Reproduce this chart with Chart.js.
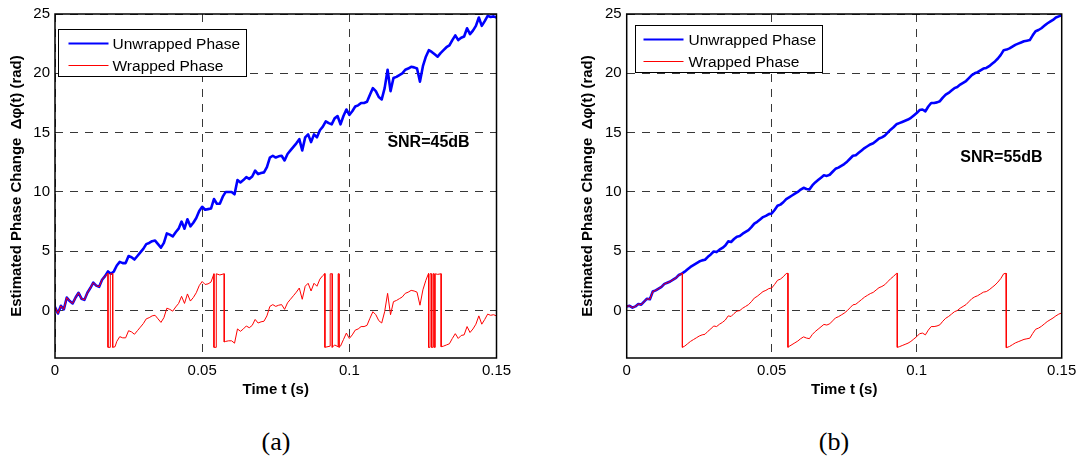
<!DOCTYPE html>
<html>
<head>
<meta charset="utf-8">
<script src="https://cdn.jsdelivr.net/npm/chart.js@4.4.1/dist/chart.umd.min.js"></script>
<style>
    body { margin: 0; background: #fff; width: 1089px; height: 458px; position: relative; overflow: hidden; }
    .panel { position: absolute; top: 0; }
    .caption { position: absolute; top: 427px; line-height: 30px; font-family: 'Liberation Serif', 'Times New Roman', serif; font-size: 26px; transform: translateX(-50%); }
</style>
</head>
<body>
<div class="panel" style="left:0"><canvas id="chartA" width="520" height="400"></canvas></div>
<div class="panel" style="left:560px"><canvas id="chartB" width="529" height="400"></canvas></div>
<div class="caption" style="left:276px">(a)</div>
<div class="caption" style="left:834px">(b)</div>

<script>
// unwrapped phase is sampled every 1 ms, 0 .. 0.15 s
const SAMPLE_STEP = 0.001;

const xTicks = [0, 0.05, 0.1, 0.15];
const xTickLabels = ['0', '0.05', '0.1', '0.15'];
const yTicks = [0, 5, 10, 15, 20, 25];
const seriesLabels = ['Unwrapped Phase', 'Wrapped Phase'];

// (a) SNR = 45 dB
const unwrappedA = [
    0.3, -0.25, 0.4, 0.1, 1.1, 0.8, 0.6, 1.1, 1.5, 1.0,
    0.9, 1.5, 1.9, 2.35, 2.1, 2.0, 2.6, 2.9, 3.3, 3.1,
    3.3, 3.8, 4.1, 4.0, 4.0, 4.6, 4.5, 4.3, 4.6, 4.9,
    5.2, 5.6, 5.7, 5.85, 5.9, 5.6, 5.3, 5.7, 6.5, 6.4,
    6.25, 6.6, 6.9, 7.5, 6.9, 7.7, 7.1, 7.4, 7.8, 8.4,
    8.75, 8.5, 8.55, 8.6, 9.4, 9.0, 9.0, 9.6, 10.0, 10.0,
    10.0, 9.8, 11.0, 10.8, 11.0, 11.25, 11.1, 11.3, 11.8, 11.5,
    11.6, 11.65, 12.1, 12.9, 13.05, 12.9, 13.0, 13.05, 12.65, 13.2,
    13.5, 13.8, 14.1, 14.45, 13.5, 14.6, 14.85, 14.2, 14.85, 14.6,
    15.2, 15.5, 15.95, 15.8, 15.7, 16.2, 16.4, 15.7, 16.4, 16.95,
    16.5, 16.8, 17.2, 17.3, 17.5, 17.5, 17.6, 18.2, 18.75, 18.5,
    18.0, 17.8, 18.75, 20.3, 18.5, 19.6, 19.7, 19.85, 20.0, 20.3,
    20.4, 20.55, 20.5, 20.4, 19.3, 20.6, 21.4, 21.95, 21.8, 21.6,
    21.4, 21.7, 21.95, 22.2, 22.35, 22.8, 23.2, 22.8, 23.0, 23.1,
    23.8, 23.3, 23.6, 24.0, 24.7, 24.0, 24.4, 24.85, 24.75, 24.8, 24.7
];
// wrapped phase has its own time stamps (ms) so the jumps stay vertical
const wrappedTimesA = [
    0, 1, 2, 3, 4, 5, 6, 7, 8, 9, 10, 11, 12, 13, 14, 15, 16, 17,
    18, 18, 18.8, 18.8, 19.6, 19.6, 20.4,
    21, 22, 23, 24, 25, 26, 27, 28, 29, 30, 31, 32, 33, 34, 35, 36, 37,
    38, 39, 40, 41, 42, 43, 44, 45, 46, 47, 48, 49, 50, 51, 52, 53,
    54, 54, 54.8, 54.8, 56, 57.5, 57.5,
    58, 59, 60, 61, 62, 63, 64, 65, 66, 67, 68, 69, 70, 71, 72, 73, 74,
    75, 76, 77, 78, 79, 80, 81, 82, 83, 84, 85, 86, 87, 88, 89, 90, 91,
    91.7, 91.7, 93.5, 93.5, 94.2, 94.2, 95, 96.2, 96.2, 96.5, 96.5,
    97, 98, 99, 100, 101, 102, 103, 104, 105, 106, 107, 108, 109, 110, 111,
    112, 113, 114, 115, 116, 117, 118, 119, 120, 121, 122, 123, 124, 125, 126,
    126.9, 126.9, 127.4, 127.4, 127.9, 127.9, 128.4, 128.4, 128.8, 128.8, 129.2, 129.2, 130, 131.2, 131.2,
    132, 133, 134, 135, 136, 137, 138, 139, 140, 141, 142, 143, 144, 145, 146, 147, 148, 149, 150
];
const wrappedA = [
    0.3, -0.25, 0.4, 0.1, 1.1, 0.8, 0.6, 1.1, 1.5, 1.0, 0.9, 1.5, 1.9, 2.35, 2.1, 2.0, 2.6, 2.9,
    3.14, -3.1, -3.1, 3.1, 3.1, -3.1, -3.05,
    -2.6, -2.2, -2.3, -2.3, -1.7, -1.8, -2.0, -1.7, -1.4, -1.1, -0.7, -0.6, -0.45, -0.4, -0.7, -1.0, -0.6,
    0.2, 0.1, -0.05, 0.3, 0.6, 1.2, 0.6, 1.4, 0.8, 1.1, 1.5, 2.1, 2.45, 2.2, 2.25, 2.4,
    3.1, -3.1, -3.1, 3.1, 3.0, 3.1, -2.65,
    -2.6, -2.55, -2.55, -2.75, -1.55, -1.75, -1.55, -1.3, -1.45, -1.25, -0.75, -1.05, -0.95, -0.9, -0.45, 0.35, 0.5,
    0.35, 0.45, 0.5, 0.1, 0.65, 0.95, 1.25, 1.55, 1.9, 0.95, 2.05, 2.3, 1.65, 2.3, 2.05, 2.65, 2.95,
    3.12, -3.1, -3.0, 3.1, 3.1, -3.1, -2.9, -3.05, 3.1, 3.1, -3.1,
    -3.0, -2.45, -1.9, -2.35, -2.05, -1.65, -1.55, -1.35, -1.35, -1.25, -0.65, -0.1, -0.35, -0.85, -1.05,
    -0.1, 1.45, -0.35, 0.75, 0.85, 1.0, 1.15, 1.45, 1.55, 1.7, 1.65, 1.55, 0.45, 1.75, 2.55,
    3.12, -3.1, -3.1, 3.1, 3.1, -3.1, -3.1, 3.1, 3.1, -3.1, -3.1, 3.1, 3.05, 3.1, -3.05,
    -3.0, -2.9, -2.8, -2.35, -1.95, -2.35, -2.1, -2.05, -1.35, -1.85, -1.55, -1.15, -0.45, -1.15, -0.75, -0.3, -0.4, -0.35, -0.45
];

// (b) SNR = 55 dB
const unwrappedB = [
    0.35, 0.4, 0.25, 0.35, 0.55, 0.5, 0.75, 1.0, 0.95, 1.6,
    1.7, 1.85, 2.0, 2.25, 2.35, 2.45, 2.6, 2.75, 3.0, 3.12,
    3.28, 3.48, 3.68, 3.83, 3.98, 4.13, 4.23, 4.28, 4.53, 4.73,
    4.98, 4.93, 5.13, 5.28, 5.48, 5.83, 5.78, 6.03, 6.23, 6.28,
    6.48, 6.63, 6.78, 7.03, 7.33, 7.48, 7.68, 7.88, 7.98, 8.13,
    8.18, 8.48, 8.83, 8.93, 9.13, 9.4, 9.55, 9.7, 9.85, 10.0,
    10.2, 10.35, 10.25, 10.2, 10.55, 10.8, 11.0, 11.2, 11.4, 11.35,
    11.45, 11.7, 11.95, 12.05, 12.2, 12.35, 12.55, 12.8, 13.05, 13.1,
    13.3, 13.5, 13.7, 13.85, 14.0, 14.1, 14.3, 14.5, 14.6, 14.75,
    15.0, 15.25, 15.45, 15.7, 15.8, 15.9, 16.0, 16.1, 16.25, 16.45,
    16.65, 16.9, 16.95, 16.8, 17.2, 17.5, 17.5, 17.55, 17.65, 17.95,
    18.2, 18.35, 18.55, 18.75, 18.85, 19.05, 19.2, 19.35, 19.6, 19.85,
    20.0, 20.1, 20.25, 20.4, 20.45, 20.6, 20.8, 21.0, 21.25, 21.55,
    21.95, 22.0, 22.1, 22.25, 22.4, 22.5, 22.6, 22.7, 22.75, 22.8,
    23.2, 23.55, 23.65, 23.8, 24.0, 24.2, 24.35, 24.5, 24.7, 24.8, 24.9
];
const wrappedTimesB = [
    0, 1, 2, 3, 4, 5, 6, 7, 8, 9, 10, 11, 12, 13, 14, 15, 16, 17, 18, 19,
    19.2, 19.2,
    20, 21, 22, 23, 24, 25, 26, 27, 28, 29, 30, 31, 32, 33, 34, 35, 36, 37,
    38, 39, 40, 41, 42, 43, 44, 45, 46, 47, 48, 49, 50, 51, 52, 53, 54, 55,
    55.6, 55.6,
    56, 57, 58, 59, 60, 61, 62, 63, 64, 65, 66, 67, 68, 69, 70, 71, 72, 73, 74,
    75, 76, 77, 78, 79, 80, 81, 82, 83, 84, 85, 86, 87, 88, 89, 90, 91, 92, 93,
    93.3, 93.3,
    94, 95, 96, 97, 98, 99, 100, 101, 102, 103, 104, 105, 106, 107, 108, 109, 110, 111, 112,
    113, 114, 115, 116, 117, 118, 119, 120, 121, 122, 123, 124, 125, 126, 127, 128, 129, 130,
    130.8, 130.8,
    131, 132, 133, 134, 135, 136, 137, 138, 139, 140, 141, 142, 143, 144, 145, 146, 147, 148, 149, 150
];
const wrappedB = [
    0.35, 0.4, 0.25, 0.35, 0.55, 0.5, 0.75, 1.0, 0.95, 1.6, 1.7, 1.85, 2.0, 2.25, 2.35, 2.45, 2.6, 2.75, 3.0, 3.12,
    3.14, -3.1,
    -3.0, -2.8, -2.6, -2.45, -2.3, -2.15, -2.05, -2.0, -1.75, -1.55, -1.3, -1.35, -1.15, -1.0, -0.8, -0.45, -0.5, -0.25,
    -0.05, 0.0, 0.2, 0.35, 0.5, 0.75, 1.05, 1.2, 1.4, 1.6, 1.7, 1.85, 1.9, 2.2, 2.55, 2.65, 2.85, 3.12,
    3.14, -3.1,
    -3.02, -2.87, -2.72, -2.57, -2.37, -2.22, -2.32, -2.37, -2.02, -1.77, -1.57, -1.37, -1.17, -1.22, -1.12, -0.87, -0.62, -0.52, -0.37,
    -0.22, -0.02, 0.23, 0.48, 0.53, 0.73, 0.93, 1.13, 1.28, 1.43, 1.53, 1.73, 1.93, 2.03, 2.18, 2.43, 2.68, 2.88, 3.13,
    3.14, -3.1,
    -3.05, -2.95, -2.85, -2.75, -2.6, -2.4, -2.2, -1.95, -1.9, -2.05, -1.65, -1.35, -1.35, -1.3, -1.2, -0.9, -0.65, -0.5, -0.3,
    -0.1, 0.0, 0.2, 0.35, 0.5, 0.75, 1.0, 1.15, 1.25, 1.4, 1.55, 1.6, 1.75, 1.95, 2.15, 2.4, 2.7, 3.1,
    3.14, -3.13,
    -3.13, -3.03, -2.88, -2.73, -2.63, -2.53, -2.43, -2.38, -2.33, -1.93, -1.58, -1.48, -1.33, -1.13, -0.93, -0.78, -0.63, -0.45, -0.3, -0.2
];

const FONT = "'Liberation Sans', Arial, Helvetica, sans-serif";
Chart.defaults.font.family = FONT;
Chart.defaults.color = '#000';

function sampledPoints(values) {
    return values.map((v, i) => ({ x: +(i * SAMPLE_STEP).toFixed(3), y: v }));
}

function timedPoints(timesMs, values) {
    return values.map((v, i) => ({ x: timesMs[i] / 1000, y: v }));
}

// frame, legend box and SNR text, drawn on top like MATLAB does
const phaseDecor = {
    id: 'phaseDecor',
    afterDraw(chart, args, opts) {
        const { ctx, chartArea: a, scales } = chart;
        ctx.save();
        ctx.setLineDash([]);
        ctx.strokeStyle = '#000';
        ctx.lineWidth = 1.5;
        ctx.strokeRect(a.left, a.top, a.right - a.left, a.bottom - a.top);

        ctx.font = 'bold 16px ' + FONT;
        ctx.fillStyle = '#000';
        ctx.textAlign = 'center';
        ctx.textBaseline = 'middle';
        ctx.fillText(opts.snr, scales.x.getPixelForValue(opts.snrAt[0]), scales.y.getPixelForValue(opts.snrAt[1]));

        const lg = opts.legend;
        const bx = Math.round(a.left + lg.dx) + 0.5;
        const by = Math.round(a.top + lg.dy) + 0.5;
        ctx.font = '15.5px ' + FONT;
        const textW = Math.max(...chart.data.datasets.map(d => ctx.measureText(d.label).width));
        const w = Math.round(lg.textX + textW + 6);
        const h = 47;
        ctx.fillStyle = '#fff';
        ctx.fillRect(bx, by, w, h);
        ctx.strokeStyle = '#000';
        ctx.lineWidth = 1;
        ctx.strokeRect(bx, by, w, h);
        chart.data.datasets.forEach((d, i) => {
            const y = by + 14 + i * 22;
            ctx.strokeStyle = d.borderColor;
            ctx.lineWidth = Math.min(d.borderWidth, 2);
            ctx.beginPath();
            ctx.moveTo(bx + lg.lineX, y);
            ctx.lineTo(bx + lg.lineX + 40, y);
            ctx.stroke();
            ctx.fillStyle = '#000';
            ctx.textAlign = 'left';
            ctx.fillText(d.label, bx + lg.textX, y + 1);
        });
        ctx.restore();
    }
};

function makePhaseChart(canvasId, unwrapped, wrappedTimes, wrapped, cfg) {
    const ctx = document.getElementById(canvasId).getContext('2d');
    return new Chart(ctx, {
        type: 'line',
        data: {
            datasets: [
                {
                    label: seriesLabels[0],
                    data: sampledPoints(unwrapped),
                    borderColor: '#0000ff',
                    borderWidth: 2.6,
                    order: 2
                },
                {
                    label: seriesLabels[1],
                    data: timedPoints(wrappedTimes, wrapped),
                    borderColor: '#ff0000',
                    borderWidth: 1,
                    order: 1
                }
            ]
        },
        options: {
            responsive: false,
            animation: false,
            devicePixelRatio: 1,
            elements: {
                point: { radius: 0 },
                line: { tension: 0, borderJoinStyle: 'round', borderCapStyle: 'round' }
            },
            layout: { padding: { top: cfg.top, right: cfg.right, left: 0, bottom: 0 } },
            scales: {
                x: {
                    type: 'linear',
                    min: 0,
                    max: 0.15,
                    afterFit: scale => { scale.height = 42; },
                    afterBuildTicks: scale => { scale.ticks = xTicks.map(v => ({ value: v })); },
                    ticks: {
                        autoSkip: false,
                        maxRotation: 0,
                        padding: 4,
                        font: { size: 15 },
                        callback: (value, index) => xTickLabels[index]
                    },
                    grid: { color: 'rgba(0,0,0,0.78)', lineWidth: 1, drawTicks: false },
                    border: { display: false, dash: [8, 7] },
                    title: {
                        display: true,
                        text: 'Time t (s)',
                        font: { size: 15, weight: 'bold' },
                        padding: { top: 0, bottom: 1 }
                    }
                },
                y: {
                    min: -4,
                    max: 25,
                    afterFit: scale => { scale.width = cfg.yWidth; },
                    afterBuildTicks: scale => { scale.ticks = yTicks.map(v => ({ value: v })); },
                    ticks: {
                        padding: 5,
                        font: { size: 15 },
                        callback: value => String(value)
                    },
                    grid: { color: 'rgba(0,0,0,0.78)', lineWidth: 1, drawTicks: false },
                    border: { display: false, dash: [8, 7] },
                    title: {
                        display: true,
                        text: 'Estimated Phase Change  \u0394\u03c6(t) (rad)',
                        font: { size: 15, weight: 'bold' },
                        padding: { top: cfg.titlePad, bottom: 0 }
                    }
                }
            },
            plugins: {
                legend: { display: false },
                tooltip: { enabled: false },
                phaseDecor: {
                    snr: cfg.snr,
                    snrAt: cfg.snrAt,
                    legend: cfg.legend
                }
            }
        },
        plugins: [phaseDecor]
    });
}

makePhaseChart('chartA', unwrappedA, wrappedTimesA, wrappedA, {
    top: 10, right: 23.5, yWidth: 55, titlePad: 8,
    snr: 'SNR=45dB', snrAt: [0.1269, 14.2],
    legend: { dx: 3, dy: 15, lineX: 10, textX: 54 }
});

makePhaseChart('chartB', unwrappedB, wrappedTimesB, wrappedB, {
    top: 11, right: 27.3, yWidth: 66.7, titlePad: 19,
    snr: 'SNR=55dB', snrAt: [0.1292, 12.9],
    legend: { dx: 8.3, dy: 11, lineX: 8, textX: 53 }
});
</script>
</body>
</html>
